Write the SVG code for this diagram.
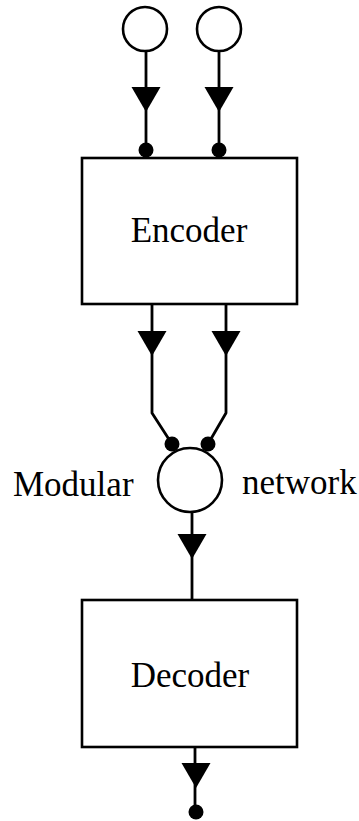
<svg xmlns="http://www.w3.org/2000/svg" width="359" height="821" viewBox="0 0 359 821">
  <style>
    .ln { fill: none; stroke: #000; stroke-width: 2.8; stroke-linejoin: round; }
    .node { fill: #fff; stroke: #000; stroke-width: 2.6; }
    .head { fill: #000; }
    .dot { fill: #000; }
    .lbl { font-family: "Liberation Serif", "Times New Roman", serif; font-size: 35px; fill: #000; }
  </style>
  <defs>
    <!-- downward arrowhead, apex at the bottom -->
    <path id="tri" d="M-14.5,0 L14.5,0 L0,25 Z"/>
  </defs>

  <rect width="359" height="821" fill="#fff"/>

  <g id="connectors">
    <!-- inputs into encoder -->
    <line class="ln" x1="146" y1="51" x2="146" y2="158"/>
    <line class="ln" x1="219" y1="51" x2="219" y2="158"/>
    <use href="#tri" class="head" x="146" y="87"/>
    <use href="#tri" class="head" x="219" y="87"/>
    <circle class="dot" cx="146" cy="150" r="7.5"/>
    <circle class="dot" cx="219" cy="150" r="7.5"/>

    <!-- encoder into modular network -->
    <polyline class="ln" points="152,304 152,413 172,444"/>
    <polyline class="ln" points="226,304 226,413 208,444"/>
    <use href="#tri" class="head" x="152" y="331"/>
    <use href="#tri" class="head" x="226" y="331"/>

    <!-- modular network into decoder -->
    <line class="ln" x1="192" y1="512" x2="192" y2="600"/>
    <use href="#tri" class="head" x="192" y="534"/>

    <!-- decoder output -->
    <line class="ln" x1="195" y1="747" x2="195" y2="810"/>
    <use href="#tri" class="head" x="196" y="763"/>
    <circle class="dot" cx="196" cy="812" r="7.5"/>
  </g>

  <g id="input-1">
    <circle class="node" cx="145" cy="29" r="22"/>
  </g>
  <g id="input-2">
    <circle class="node" cx="219" cy="29" r="22"/>
  </g>

  <g id="encoder">
    <rect class="node" x="82" y="158" width="215" height="146"/>
    <text class="lbl" x="189" y="242" text-anchor="middle">Encoder</text>
  </g>

  <g id="modular-network">
    <circle class="node" cx="190" cy="480" r="32"/>
    <circle class="dot" cx="172" cy="444" r="7.5"/>
    <circle class="dot" cx="208" cy="444" r="7.5"/>
    <text class="lbl" x="13" y="496">Modular</text>
    <text class="lbl" x="242" y="494">network</text>
  </g>

  <g id="decoder">
    <rect class="node" x="82" y="600" width="215" height="147"/>
    <text class="lbl" x="190" y="687" text-anchor="middle">Decoder</text>
  </g>
</svg>
